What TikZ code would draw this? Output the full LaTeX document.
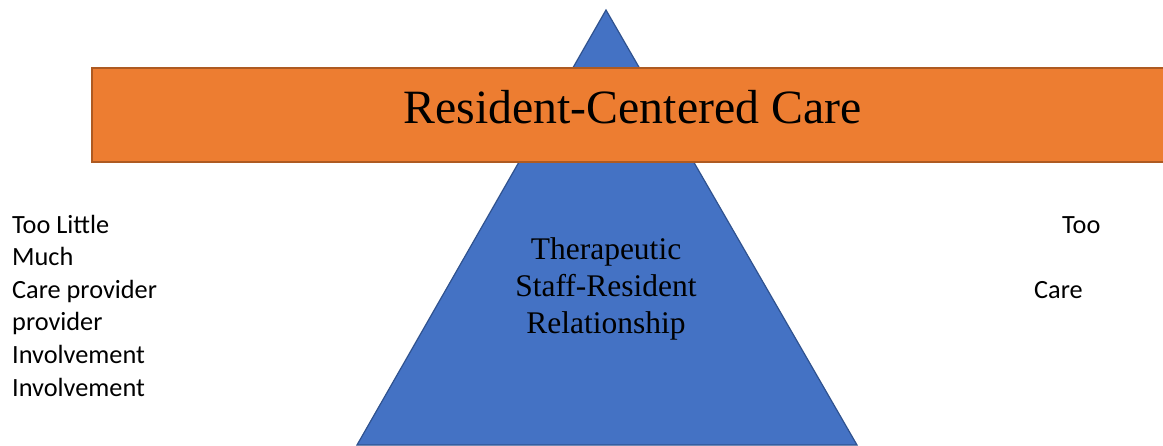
\documentclass[tikz,border=0pt]{standalone}
\usepackage{fontspec}
\setmainfont{Liberation Serif}
\newfontfamily\calfont{Carlito}
\usepackage{tikz}
\definecolor{careorange}{HTML}{ED7D31}
\definecolor{careedge}{HTML}{AE5A21}
\definecolor{relblue}{HTML}{4472C4}
\definecolor{reledge}{HTML}{2F528F}

\begin{document}
\begin{tikzpicture}[
  x=1pt, y=-1pt,
  banner/.style={fill=careorange, draw=careedge, line width=1.5pt},
  pyramid/.style={fill=relblue, draw=reledge, line width=1.2pt},
  title/.style={inner sep=0pt, anchor=base, font=\fontsize{47.8}{56}\selectfont},
  inner/.style={inner sep=0pt, align=center, font=\fontsize{31.5}{37}\selectfont},
  side/.style={inner sep=0pt, align=left, anchor=base west,
    font=\calfont\fontsize{26.3}{32.6}\selectfont}
]
\useasboundingbox (0,0) rectangle (1163,445);
\clip (0,0) rectangle (1163,445);
% relationship triangle behind the banner
\draw[pyramid] (606,10) -- (357,445) -- (857,445) -- cycle;
\draw[banner] (92,68) rectangle (1175,162);
\node[title] (care) at (632.5,123) {Resident-Centered Care};
% base of a multi-line node sits on its last line
\node[inner, anchor=base] (rel) at (606,333) {Therapeutic\\Staff-Resident\\Relationship};
% labels at both sides
\node[side] (little) at (12,396) {Too Little\\Much\\Care provider\\provider\\Involvement\\Involvement};
\node[side] (too) at (1062,233) {Too};
\node[side] (carer) at (1034,298) {Care};
\end{tikzpicture}
\end{document}
